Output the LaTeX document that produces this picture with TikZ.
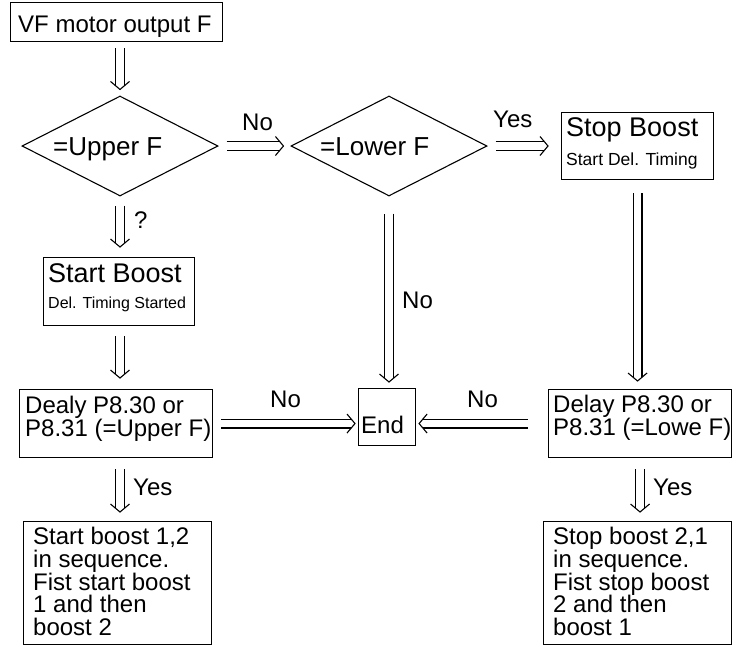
\documentclass[tikz,border=0pt]{standalone}
\usepackage{fontspec}
\setmainfont{Liberation Sans}
\usetikzlibrary{shapes.geometric,calc}
\tikzset{
  box/.style={draw, line width=1.1pt, inner sep=0pt, anchor=north west},
  decision/.style={draw, diamond, line width=1.1pt, inner sep=0pt, minimum width=196pt, minimum height=100pt},
  txt/.style={anchor=base west, inner sep=0pt, font=\fontsize{24}{24}\selectfont},
  bigtxt/.style={anchor=base west, inner sep=0pt, font=\fontsize{27}{27}\selectfont},
  dtxt/.style={anchor=base west, inner sep=0pt, font=\fontsize{26}{26}\selectfont},
  smalltxt/.style={anchor=base west, inner sep=0pt, font=\fontsize{17.5}{17.5}\selectfont},
  smallertxt/.style={anchor=base west, inner sep=0pt, font=\fontsize{16}{16}\selectfont},
  lbl/.style={anchor=base west, inner sep=0pt, font=\fontsize{24}{24}\selectfont},
  dblline/.style={double, double distance=7.8pt, line width=1.1pt},
  headline/.style={line width=1.1pt, line join=miter}
}
\newcommand{\darrow}[4]{%
  \coordinate (dA) at #1; \coordinate (dB) at #2;
  \coordinate (dS) at ($(dA)!#3!(dB)$);
  \coordinate (dT) at ($(dB)!#4!(dA)$);
  \coordinate (dP) at ($(dT)!8pt!(dS)$);
  \draw[dblline] (dS) -- ($(dT)!3.6pt!(dS)$);
  \draw[headline] ($(dP)!9.5pt!90:(dT)$) -- (dT) -- ($(dP)!9.5pt!-90:(dT)$);
}
\begin{document}
\begin{tikzpicture}[x=1pt,y=-1pt]
\useasboundingbox (0,0) rectangle (732,646);
% boxes
\node[box, minimum width=212pt, minimum height=39pt] (vf) at (10,2) {};
\node[txt] (vft) at (18,32) {VF motor output F};
\node[decision] (d1) at (120,146) {};
\node[dtxt] (d1t) at (53,155) {=Upper F};
\node[decision] (d2) at (389,146) {};
\node[dtxt] (d2t) at (320,155) {=Lower F};
\node[box, minimum width=152pt, minimum height=67pt] (stop) at (561,112) {};
\node[bigtxt] (stopt) at (566,136) {Stop Boost};
\node[smalltxt] (stops) at (566,165) {Start Del. Timing};
\node[box, minimum width=151pt, minimum height=68pt] (sb) at (43,257) {};
\node[bigtxt] (sbt) at (48,282) {Start Boost};
\node[smallertxt] (sbs) at (48,308) {Del. Timing Started};
\node[box, minimum width=193pt, minimum height=68pt] (dealy) at (19,389) {};
\node[txt] (dealy1) at (25,413) {Dealy P8.30 or};
\node[txt] (dealy2) at (25,436) {P8.31 (=Upper F)};
\node[box, minimum width=183pt, minimum height=68pt] (delayR) at (548,389) {};
\node[txt] (delayR1) at (553,412) {Delay P8.30 or};
\node[txt] (delayR2) at (553,435) {P8.31 (=Lowe F)};
\node[box, minimum width=57pt, minimum height=57pt] (end) at (358,388) {};
\node[txt] (endt) at (361,433) {End};
\node[box, minimum width=188pt, minimum height=123pt] (bl) at (23,521) {};
\node[txt] (bl1) at (33,544) {Start boost 1,2};
\node[txt] (bl2) at (33,567) {in sequence.};
\node[txt] (bl3) at (33,590) {Fist start boost};
\node[txt] (bl4) at (33,612) {1 and then};
\node[txt] (bl5) at (33,635) {boost 2};
\node[box, minimum width=188pt, minimum height=123pt] (br) at (543,521) {};
\node[txt] (br1) at (553,544) {Stop boost 2,1};
\node[txt] (br2) at (553,567) {in sequence.};
\node[txt] (br3) at (553,590) {Fist stop boost};
\node[txt] (br4) at (553,612) {2 and then};
\node[txt] (br5) at (553,635) {boost 1};
% arrows
\darrow{(d1.north |- vf.south)}{(d1.north)}{6pt}{6pt}
\darrow{(d1.east)}{(d2.west)}{8pt}{7pt}
\darrow{(d2.east)}{(stop.west |- d2.east)}{8pt}{13pt}
\darrow{(d1.south)}{(d1.south |- sb.north)}{9pt}{10pt}
\darrow{(d1.south |- sb.south)}{(d1.south |- dealy.north)}{10pt}{11pt}
\darrow{(stop.south)}{(stop.south |- delayR.north)}{13pt}{8pt}
\darrow{(d2.south)}{(d2.south |- end.north)}{17pt}{6pt}
\darrow{(dealy.east)}{(dealy.east -| end.west)}{8pt}{3pt}
\darrow{(delayR.west)}{(delayR.west -| end.east)}{20pt}{3pt}
\darrow{(d1.south |- dealy.south)}{(d1.south |- bl.north)}{11pt}{9pt}
\darrow{(delayR.south)}{(delayR.south |- br.north)}{11pt}{9pt}
% labels
\node[lbl] (l1) at (242,130) {No};
\node[lbl] (l2) at (493,127) {Yes};
\node[lbl] (l3) at (134,228) {?};
\node[lbl] (l4) at (402,308) {No};
\node[lbl] (l5) at (270,407) {No};
\node[lbl] (l6) at (467,407) {No};
\node[lbl] (l7) at (133,495) {Yes};
\node[lbl] (l8) at (653,495) {Yes};
\end{tikzpicture}
\end{document}
